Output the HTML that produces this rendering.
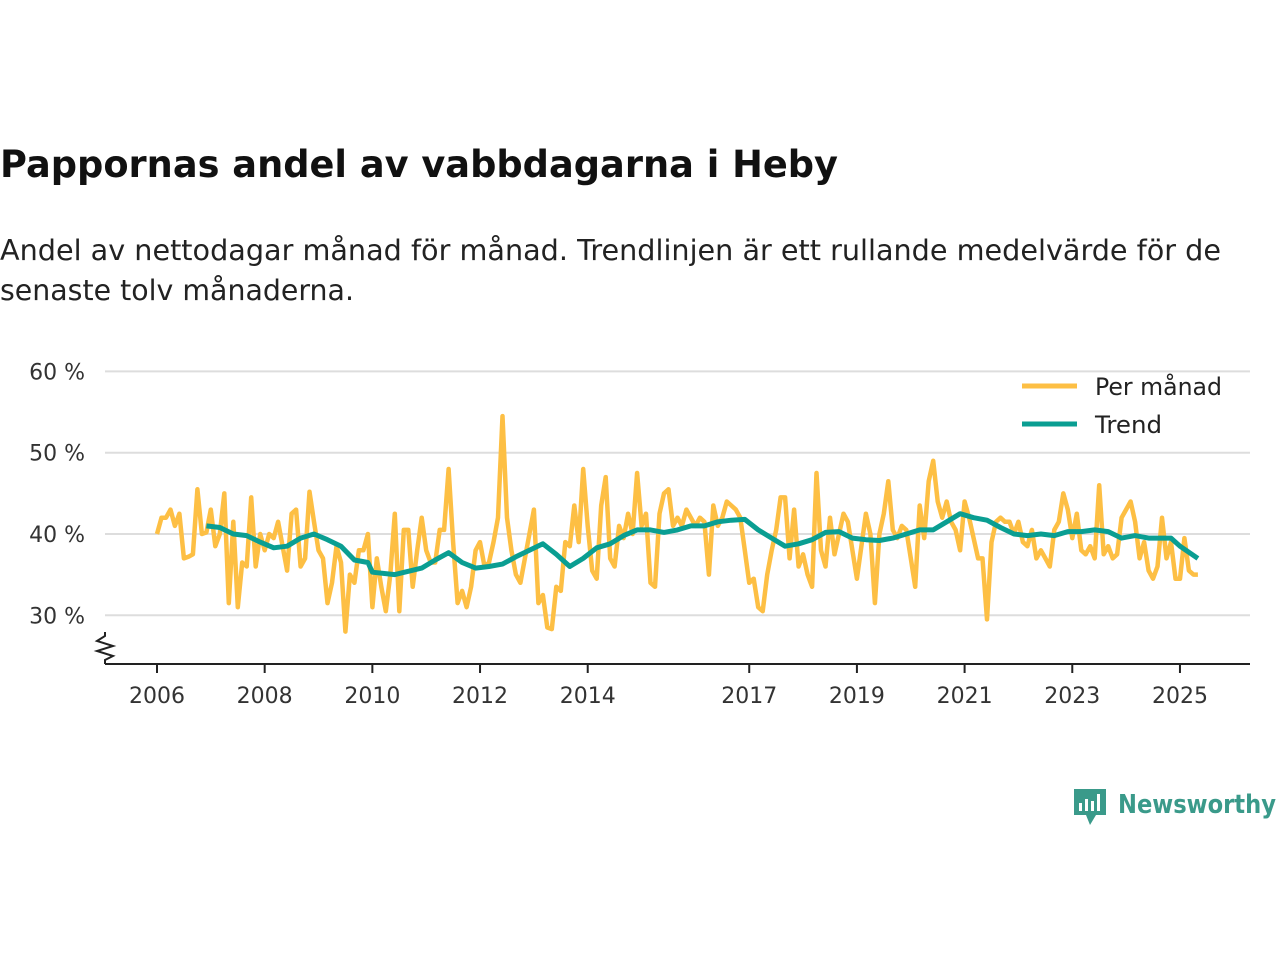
<!DOCTYPE html>
<html><head><meta charset="utf-8"><style>
body{margin:0;background:#fff;width:1280px;height:960px;overflow:hidden;font-family:"Liberation Sans","DejaVu Sans",sans-serif;}
svg text{font-family:"DejaVu Sans","Liberation Sans",sans-serif;}
</style></head><body>
<svg width="1280" height="960">
<text x="0" y="177" font-size="37" font-weight="bold" fill="#111" textLength="838" lengthAdjust="spacingAndGlyphs">Pappornas andel av vabbdagarna i Heby</text>
<text x="0" y="260" font-size="28.5" fill="#222" textLength="1221" lengthAdjust="spacingAndGlyphs">Andel av nettodagar månad för månad. Trendlinjen är ett rullande medelvärde för de</text>
<text x="0" y="300" font-size="28.5" fill="#222" textLength="354" lengthAdjust="spacingAndGlyphs">senaste tolv månaderna.</text>
<g id="grid"></g><g id="axes"></g><g id="series"></g>
<g>
<line x1="1022" y1="386" x2="1077" y2="386" stroke="#fdbf44" stroke-width="5"/>
<text x="1095" y="395" font-size="24" fill="#222" textLength="127" lengthAdjust="spacingAndGlyphs">Per månad</text>
<line x1="1022" y1="424" x2="1077" y2="424" stroke="#0a9e92" stroke-width="5"/>
<text x="1095" y="433" font-size="24" fill="#222" textLength="67" lengthAdjust="spacingAndGlyphs">Trend</text>
</g>
<g>
<path d="M1074 789h32v26h-10l-6 10-4-10h-12z" fill="#3a9a8a"/>
<rect x="1079" y="803" width="3" height="8" fill="#fff"/><rect x="1085" y="799" width="3" height="12" fill="#fff"/><rect x="1091" y="801" width="3" height="10" fill="#fff"/><rect x="1097" y="794" width="3" height="17" fill="#fff"/>
<text x="1118" y="813" font-size="26" font-weight="bold" fill="#3a9a8a" textLength="158" lengthAdjust="spacingAndGlyphs">Newsworthy</text>
</g>
</svg>
<script>
const yTicks=[30,40,50,60];
const yTickLabels=["30 %","40 %","50 %","60 %"];
const xTickYears=[2006,2008,2010,2012,2014,2017,2019,2021,2023,2025];
const monthly=[
40,42,42,43,41,42.5,37,37.2,37.5,45.5,40,40.2,
43,38.5,40,45,31.5,41.5,31,36.5,36,44.5,36,40,
38,40,39.5,41.5,38.5,35.5,42.5,43,36,37,45.2,41.5,
38,37,31.5,34,38.5,36.5,28,35,34,38,38,40,
31,37,33.5,30.5,35,42.5,30.5,40.5,40.5,33.5,38,42,
38,36.5,36.5,40.5,40.5,48,39,31.5,33,31,33.5,38,
39,36,36.5,39,42,54.5,42,38,35,34,37,40,
43,31.5,32.5,28.5,28.3,33.5,33,39,38.5,43.5,39,48,
41,35.5,34.5,43.5,47,37,36,41,39.5,42.5,40,47.5,
41,42.5,34,33.5,42.5,45,45.5,41,42,41,43,42,
41,42,41.5,35,43.5,41,42,44,43.5,43,42,38,
34,34.5,31,30.5,35,38,40.5,44.5,44.5,37,43,36,
37.5,35,33.5,47.5,38,36,42,37.5,40,42.5,41.5,38,
34.5,38.5,42.5,40,31.5,40,42.5,46.5,40.5,39.5,41,40.5,
37,33.5,43.5,39.5,46.5,49,44,42,44,41.5,40.5,38,
44,42,39.5,37,37,29.5,39,41.5,42,41.5,41.5,40,
41.5,39,38.5,40.5,37,38,37,36,40.5,41.5,45,43,
39.5,42.5,38,37.5,38.5,37,46,37.5,38.5,37,37.5,42,
43,44,41.5,37,39,35.5,34.5,36,42,37,39,34.5,
34.5,39.5,35.5,35,35];
const trendMonthIdx=[11,14,17,20,23,26,29,32,35,38,41,44,47,48,53,59,62,65,68,71,74,77,80,83,86,89,92,95,98,101,104,107,110,113,116,119,122,125,128,131,134,137,140,143,146,149,152,155,158,161,164,167,170,173,176,179,182,185,188,191,194,197,200,203,206,209,212,215,218,221,223,226,228,232];
const trendValues=[41,40.8,40,39.8,39,38.3,38.5,39.5,40,39.3,38.5,36.8,36.5,35.3,35,35.8,36.8,37.7,36.5,35.8,36,36.3,37.2,38,38.8,37.5,36,37,38.3,38.8,39.8,40.5,40.5,40.2,40.5,41,41,41.5,41.7,41.8,40.5,39.5,38.5,38.8,39.3,40.2,40.3,39.5,39.3,39.2,39.5,40,40.5,40.5,41.5,42.5,42,41.7,40.8,40,39.8,40,39.8,40.3,40.3,40.5,40.3,39.5,39.8,39.5,39.5,39.5,38.5,37];
const NS="http://www.w3.org/2000/svg";
const x0=157, pxYear=53.84;
function xScale(m){return x0+m/12*pxYear;}
function yScale(v){return 534-(v-40)*8.13;}
const grid=document.getElementById('grid'),axes=document.getElementById('axes'),ser=document.getElementById('series');
yTicks.forEach((t,i)=>{
 const l=document.createElementNS(NS,'line');
 
 
 l.setAttribute('x1',105);l.setAttribute('x2',1250);l.setAttribute('y1',yScale(t));l.setAttribute('y2',yScale(t));
 l.setAttribute('stroke','#ddd');l.setAttribute('stroke-width','2');grid.appendChild(l);
 const tx=document.createElementNS(NS,'text');
 
 
 tx.setAttribute('x',85);tx.setAttribute('y',yScale(t)+8);tx.setAttribute('text-anchor','end');tx.setAttribute('font-size','22');tx.setAttribute('fill','#333');
 tx.textContent=yTickLabels[i];axes.appendChild(tx);
});
const base=document.createElementNS(NS,'line');


base.setAttribute('x1',105);base.setAttribute('x2',1250);base.setAttribute('y1',664);base.setAttribute('y2',664);base.setAttribute('stroke','#222');base.setAttribute('stroke-width','2');axes.appendChild(base);
const zz=document.createElementNS(NS,'path');


zz.setAttribute('d','M105 632 L105 636 L97 641 L113 646 L97 651 L113 656 L105 660 L105 664');zz.setAttribute('fill','none');zz.setAttribute('stroke','#222');zz.setAttribute('stroke-width','2');axes.appendChild(zz);
xTickYears.forEach(y=>{
 const x=xScale((y-2006)*12);
 const l=document.createElementNS(NS,'line');
 
 
 l.setAttribute('x1',x);l.setAttribute('x2',x);l.setAttribute('y1',664);l.setAttribute('y2',673);l.setAttribute('stroke','#222');l.setAttribute('stroke-width','2');axes.appendChild(l);
 const tx=document.createElementNS(NS,'text');
 
 
 tx.setAttribute('x',x);tx.setAttribute('y',703);tx.setAttribute('text-anchor','middle');tx.setAttribute('font-size','22');tx.setAttribute('fill','#333');
 tx.textContent=y;axes.appendChild(tx);
});
const p1=document.createElementNS(NS,'path');


p1.setAttribute('d',monthly.map((v,i)=>(i?'L':'M')+xScale(i).toFixed(1)+' '+yScale(v).toFixed(1)).join(' '));
p1.setAttribute('fill','none');p1.setAttribute('stroke','#fdbf44');p1.setAttribute('stroke-width','4.5');p1.setAttribute('stroke-linejoin','round');ser.appendChild(p1);
const p2=document.createElementNS(NS,'path');


p2.setAttribute('d',trendValues.map((v,i)=>(i?'L':'M')+xScale(trendMonthIdx[i]).toFixed(1)+' '+yScale(v).toFixed(1)).join(' '));
p2.setAttribute('fill','none');p2.setAttribute('stroke','#0a9e92');p2.setAttribute('stroke-width','5');p2.setAttribute('stroke-linejoin','round');ser.appendChild(p2);
</script>
</body></html>
